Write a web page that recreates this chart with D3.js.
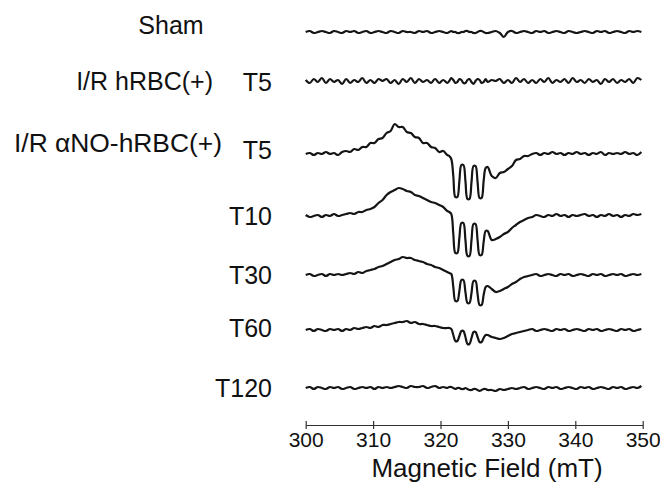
<!DOCTYPE html>
<html>
<head>
<meta charset="utf-8">
<script src="https://cdn.jsdelivr.net/npm/d3@7"></script>
<style>
  html, body { margin: 0; padding: 0; background: #fff; }
  text { font-family: "Liberation Sans", Arial, Helvetica, sans-serif; fill: #111; }
</style>
</head>
<body>
<svg id="chart" width="660" height="490"></svg>
<script>
// ---------------- DATA ----------------
// Magnetic field sampling (mT): 0.6 mT steps, 0.3 mT steps across the triplet (321-327 mT)
const fields = [
  ...d3.range(35).map(i => 300 + 0.6 * i),
  ...d3.range(21).map(i => 321 + 0.3 * i),
  ...d3.range(38).map(i => 327.6 + 0.6 * i)
];

// Tick values of the field axis
const tickValues = [300, 310, 320, 330, 340, 350];

// Row labels
const groupLabels = ["Sham", "I/R hRBC(+)", "I/R \u03B1NO-hRBC(+)"];
const timeLabels = ["", "T5", "T5", "T10", "T30", "T60", "T120"];

// ESR signal (arbitrary units), one value per field sample
const sham = [
  0,1,-1,0,1,0,-1,1,0,-1,
  1,0,1,-1,0,1,-1,0,1,0,
  -1,1,0,-1,1,0,0,-1,1,0,
  1,-1,0,1,0,
  -1,0,1,0,0,-1,-1,0,0,1,1,0,0,-1,-1,0,1,1,0,-1,-1,
  0,1,-1,-5,
  0,1,-1,0,1,0,-1,1,0,1,
  -1,0,1,0,-1,1,0,-1,0,1,
  0,-1,1,0,1,-1,0,1,0,-1,
  1,0,1,0];
const hrbcT5 = [
  1,-2,2,-1,3,-2,2,-1,1,-3,
  2,-2,1,-1,3,-2,1,-2,2,0,
  2,-2,1,-3,2,-1,3,-2,2,-1,
  1,-2,2,-2,1,
  -2,0,3,1,-2,-1,2,1,-2,-2,1,2,-1,-3,0,2,1,-2,-1,2,-1,
  1,0,2,-2,
  1,-2,3,-1,2,-2,1,-2,2,-1,
  3,-2,1,-1,2,-2,3,-1,1,-2,
  2,-1,1,-3,2,-1,2,-2,1,-1,
  2,-2,3,1];
const anoT5 = [
  0,1,-1,1,0,2,0,1,-1,2,
  3,2,5,4,7,7,11,11,15,16,
  21,23,30,27,27,22,21,17,16,11,
  11,7,6,2,3,
  -1,-2,-5,-22,-43,-43,-27,-11,-11,-27,-45,-45,-28,-12,-12,-28,-44,-44,-27,-14,-13,
  -22,-24,-19,-18,
  -15,-12,-6,-5,-2,-2,0,1,-1,1,
  0,2,0,1,-1,1,0,2,0,1,
  -1,1,0,2,-1,1,0,1,0,2,
  0,1,-1,2];
const anoT10 = [
  1,-1,0,1,-1,1,0,2,0,1,
  2,3,2,4,4,6,7,9,13,16,
  21,24,26,28,27,25,24,21,20,18,
  16,14,13,11,9,
  5,4,2,-18,-37,-37,-22,-7,-7,-24,-40,-40,-24,-8,-8,-24,-39,-39,-26,-15,-15,
  -24,-23,-21,-18,
  -16,-12,-9,-6,-4,-2,-1,1,0,-1,
  1,0,2,0,1,-1,1,0,1,2,
  0,1,-1,1,0,2,0,1,-1,1,
  0,2,1,2];
const anoT30 = [
  0,1,-1,0,1,-1,1,0,1,0,
  1,2,1,3,2,4,5,6,8,9,
  11,13,15,16,18,17,17,15,14,13,
  11,10,8,7,5,
  3,2,1,-12,-26,-26,-16,-5,-5,-17,-28,-28,-18,-6,-6,-19,-30,-30,-20,-12,-11,
  -14,-17,-16,-14,
  -12,-9,-7,-4,-2,-1,0,1,-1,0,
  1,0,-1,1,0,1,-1,0,1,0,
  -1,1,0,1,-1,0,1,0,1,-1,
  0,1,0,1];
const anoT60 = [
  0,1,-1,1,0,-1,1,0,1,-1,
  1,0,2,1,2,3,2,4,3,5,
  5,6,7,8,8,9,7,8,6,6,
  5,4,4,3,2,
  2,2,1,-5,-11,-11,-6,-1,-1,-7,-14,-14,-8,-2,-2,-7,-12,-12,-8,-5,-5,
  -7,-8,-9,-8,
  -6,-4,-3,-2,-1,0,1,-1,0,1,
  0,-1,1,0,1,-1,0,1,0,-1,
  1,0,1,-1,0,1,0,-1,1,0,
  1,-1,0,1];
const anoT120 = [
  0,1,-1,1,0,-1,1,0,1,-1,
  0,1,-1,0,1,0,1,-1,1,0,
  1,0,1,2,1,0,2,1,1,2,
  0,1,2,0,1,
  0,1,1,0,-1,0,0,-1,-1,0,-1,-2,-2,-1,-1,-2,-3,-2,-1,-1,-2,
  -2,-3,-1,-2,
  -1,0,-1,0,1,-1,0,1,0,-1,
  1,0,1,-1,0,1,0,-1,1,0,
  1,-1,0,1,0,-1,1,0,1,-1,
  0,1,0,2];

const spectra = [sham, hrbcT5, anoT5, anoT10, anoT30, anoT60, anoT120];

// ---------------- LAYOUT ----------------
const svg = d3.select("#chart");
const rowY = [32, 81, 154, 216, 275, 330, 388];      // trace baselines
const timeLabelY = [0, 91, 159, 225, 284, 337, 397]; // label baselines
const axisY = 425;

const x = d3.scaleLinear().domain([300, 350]).range([305.7, 642.7]);
const amp = d3.scaleLinear().domain([-1, 1]).range([1, -1]);

const line = d3.line()
  .x(d => x(d.f))
  .y(d => d.y)
  .curve(d3.curveCatmullRom.alpha(0.5));

spectra.forEach((s, r) => {
  const pts = s.map((v, i) => ({ f: fields[i], y: rowY[r] + amp(v) }));
  svg.append("path")
    .attr("d", line(pts))
    .attr("fill", "none")
    .attr("stroke", "#151515")
    .attr("stroke-width", 2.2)
    .attr("stroke-linejoin", "round");
});

// Labels
svg.append("text").attr("x", 171).attr("y", 34).attr("text-anchor", "middle")
  .attr("font-size", 25).text(groupLabels[0]);
svg.append("text").attr("x", 213).attr("y", 90).attr("text-anchor", "end")
  .attr("font-size", 25).text(groupLabels[1]);
svg.append("text").attr("x", 14).attr("y", 152)
  .attr("font-size", 25).attr("textLength", 208).attr("lengthAdjust", "spacingAndGlyphs")
  .text(groupLabels[2]);

timeLabels.forEach((t, r) => {
  if (!t) return;
  svg.append("text").attr("x", 272).attr("y", timeLabelY[r])
    .attr("text-anchor", "end").attr("font-size", 25).text(t);
});

// Axis
const axis = d3.axisBottom(x).tickValues(tickValues).tickSizeInner(4).tickSizeOuter(0).tickPadding(3)
  .tickFormat(d3.format("d"));
const gAxis = svg.append("g").attr("transform", `translate(0,${axisY})`).call(axis);
gAxis.select(".domain").attr("stroke", "#333").attr("stroke-width", 1.2);
gAxis.selectAll(".tick line").attr("y1", -4).attr("y2", 4).attr("stroke", "#333").attr("stroke-width", 1.2);
gAxis.selectAll(".tick text").attr("font-size", 21).attr("fill", "#111")
  .attr("font-family", "'Liberation Sans', Arial, sans-serif");

svg.append("text").attr("x", 487).attr("y", 477).attr("text-anchor", "middle")
  .attr("font-size", 26).text("Magnetic Field (mT)");
</script>
</body>
</html>
